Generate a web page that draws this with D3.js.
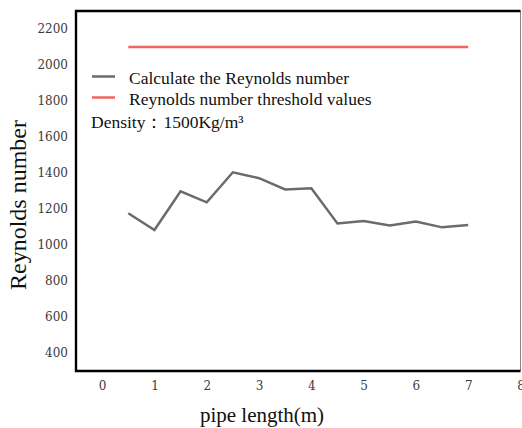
<!DOCTYPE html>
<html>
<head>
<meta charset="utf-8">
<script src="https://cdn.jsdelivr.net/npm/d3@7"></script>
<style>
  html, body { margin: 0; padding: 0; background: #fff; }
  svg { display: block; }
  text { font-family: "Liberation Serif", "Times New Roman", serif; }
</style>
</head>
<body>
<svg id="chart" width="522" height="428"></svg>
<script>
// Pipe length positions (m) and computed Reynolds numbers
const pipeLength = [0.5, 1, 1.5, 2, 2.5, 3, 3.5, 4, 4.5, 5, 5.5, 6, 6.5, 7];
const reynolds = [1176, 1083, 1298, 1237, 1404, 1371, 1309, 1315, 1120, 1133, 1109, 1130, 1098, 1111];
// Threshold value drawn across the same span
const thresholdX = [0.5, 7];
const thresholdValue = 2100;

const xTicks = [0, 1, 2, 3, 4, 5, 6, 7, 8];
const yTicks = [400, 600, 800, 1000, 1200, 1400, 1600, 1800, 2000, 2200];

const legendLabels = ["Calculate the Reynolds number", "Reynolds number threshold values"];
const densityNote = "Density：1500Kg/m³";

const svg = d3.select("#chart");

const plot = { left: 76, right: 520.5, top: 11, bottom: 371 };

const x = d3.scaleLinear().domain([-0.5, 8]).range([plot.left, plot.right]);
const y = d3.scaleLinear().domain([300, 2300]).range([plot.bottom, plot.top]);

// Axes (labels only, no tick marks)
const xAxis = d3.axisBottom(x).tickValues(xTicks).tickSize(0).tickPadding(10).tickFormat(d3.format("d"));
const yAxis = d3.axisLeft(y).tickValues(yTicks).tickSize(0).tickPadding(8).tickFormat(d3.format("d"));

const gx = svg.append("g").attr("transform", `translate(0,${plot.bottom})`).call(xAxis);
const gy = svg.append("g").attr("transform", `translate(${plot.left},0)`).call(yAxis);
[gx, gy].forEach(g => {
  g.attr("font-family", "'DejaVu Serif', serif").attr("font-size", 12);
  g.select(".domain").remove();
  g.selectAll("text")
    .attr("fill", "#3a3a3a")
    .style("font-family", "'DejaVu Serif', serif")
    .style("font-size", "12px");
});

// Frame around the plotting area
svg.append("line")
  .attr("x1", plot.right).attr("x2", plot.right)
  .attr("y1", plot.top).attr("y2", plot.bottom)
  .attr("stroke", "#888").attr("stroke-width", 1);
svg.append("path")
  .attr("d", `M${plot.right},${plot.top}H${plot.left}V${plot.bottom}H${plot.right}`)
  .attr("fill", "none").attr("stroke", "#000").attr("stroke-width", 2.4);

// Threshold line
svg.append("line")
  .attr("x1", x(thresholdX[0])).attr("x2", x(thresholdX[1]))
  .attr("y1", y(thresholdValue)).attr("y2", y(thresholdValue))
  .attr("stroke", "#f26363").attr("stroke-width", 2.5);

// Reynolds number series
const line = d3.line().x((d, i) => x(pipeLength[i])).y(d => y(d));
svg.append("path")
  .datum(reynolds)
  .attr("d", line)
  .attr("fill", "none")
  .attr("stroke", "#6b6b6b")
  .attr("stroke-width", 2.5)
  .attr("stroke-linejoin", "miter");

// Legend
const legendColors = ["#6b6b6b", "#f26363"];
const legend = svg.append("g");
legendLabels.forEach((label, i) => {
  const yy = 76.5 + i * 21;
  legend.append("line")
    .attr("x1", 92).attr("x2", 115)
    .attr("y1", yy).attr("y2", yy)
    .attr("stroke", legendColors[i]).attr("stroke-width", 2.5);
  legend.append("text")
    .attr("x", 129).attr("y", yy + 3)
    .attr("dominant-baseline", "middle")
    .attr("fill", "#111")
    .style("font-size", "17.5px")
    .text(label);
});
svg.append("text")
  .attr("x", 91).attr("y", 128)
  .attr("fill", "#111")
  .style("font-size", "17.5px")
  .text(densityNote);

// Axis titles
svg.append("text")
  .attr("x", 262).attr("y", 422)
  .attr("text-anchor", "middle")
  .attr("fill", "#111")
  .style("font-size", "21px")
  .text("pipe length(m)");

svg.append("text")
  .attr("transform", "translate(26,205) rotate(-90)")
  .attr("text-anchor", "middle")
  .attr("fill", "#111")
  .style("font-size", "24px")
  .text("Reynolds number");
</script>
</body>
</html>
